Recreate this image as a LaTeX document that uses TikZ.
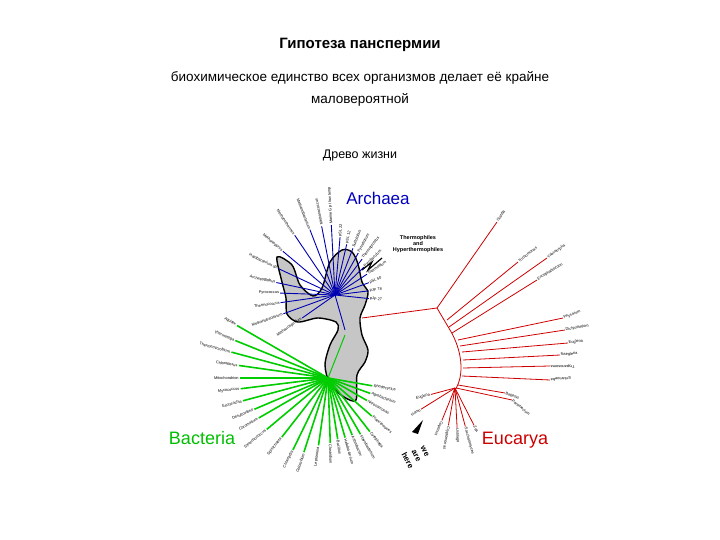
\documentclass[tikz,border=0pt]{standalone}
\usepackage{fontspec}
\setmainfont{Liberation Sans}
\begin{document}
\begin{tikzpicture}[x=1pt,y=-1pt,
  lab/.style={font=\fontsize{3.9}{4.2}\selectfont,inner sep=0.6pt},
  arc/.style={draw=blue!70!black,line width=0.9pt},
  bac/.style={draw=green!80!black,line width=1.6pt},
  euk/.style={draw=red!80!black,line width=0.8pt}]
\useasboundingbox (0,0) rectangle (720,540);
\node (title) at (360,45) {\fontsize{15}{18}\selectfont\bfseries Гипотеза панспермии};
\node[align=center,font=\fontsize{13.5}{22}\selectfont] (sub) at (360,89) {биохимическое единство всех организмов делает её крайне\\ маловероятной};
\node (tree) at (360,155) {\fontsize{12.5}{15}\selectfont Древо жизни};
\node[text=blue!75!black] (arch) at (378,198) {\fontsize{17}{20}\selectfont Archaea};
\node[text=green!75!black] (bact) at (202,438) {\fontsize{18}{20}\selectfont Bacteria};
\node[text=red!80!black] (euc) at (515,440) {\fontsize{18}{20}\selectfont Eucarya};
\node[align=center,font=\fontsize{5.5}{6}\selectfont\bfseries] (thermo) at (418,244) {Thermophiles\\and\\Hyperthermophiles};
% blob
\draw[fill=gray!45,line width=1.4pt] plot[smooth cycle,tension=0.5] coordinates{
 (277,257) (292,265) (300,285) (313,296) (322,288) (330,262) (342,250) (352,252) (358,264)
 (362,282) (368,292) (365,305) (360,318) (362,335) (368,350) (365,362) (357,375) (356,400)
 (344,397) (330,384) (325,365) (330,345) (338,330) (336,322) (318,318) (298,322) (287,314)
 (286,298) (282,282)};
\draw[line width=1.2pt] (362,270) -- (372,262) -- (368,270) -- (382,258);
% archaea
\coordinate (ar) at (335,295);
\foreach \a/\r/\n in {101/70/Methanococcus,93/70/Marine Gp I low temp,85/58/pSL 22,77/52/pSL 12,69/50/Sulfolobus,61/48/Pyrodictium,53/45/Thermoproteus,44/40/Pyrobaculum,33/38/Thermofilum,20/36/pSL 50,7/34/pJP 78,-6/34/pJP 27}
  {\draw[arc] (ar) -- ++(-\a:\r) node[lab,rotate=\a,anchor=west]{\n};}
\foreach \a/\r/\n in {111/70/Methanobacterium,124/72/Methanothermus,140/68/Methanopyrus,155/62/Halobacterium sp.,168/60/Archaeoglobus,178/55/Pyrococcus,188/55/Thermococcus,200/55/Methanobacterium,215/40/Methanospirillum}
  {\draw[arc] (ar) -- ++(-\a:\r) node[lab,rotate=\a-180,anchor=east]{\n};}
\draw[arc] (ar) -- (345,330);
% bacteria
\coordinate (br) at (328,378);
\draw[bac,line width=1pt] (br) -- (345,335);
\foreach \a/\r/\n in {150/105/Aquifex,158/100/Thermotoga,165/100/Thermomicrobium,172/90/Chloroflexus,180/88/Mitochondrion,187/88/Myxococcus,195/88/Escherichia,203/80/Desulfovibrio,210/80/Chromatium,220/80/Synechococcus,232/75/Spirochaeta,244/80/Chlamydia,252/78/Chlorobium,262/68/Leptonema}
  {\draw[bac] (br) -- ++(-\a:\r) node[lab,rotate=\a-180,anchor=east]{\n};}
\foreach \a/\r/\n in {272/65/Clostridium,279/62/Bacillus,286/62/Heliobacterium,293/62/Arthrobacter,300/65/Flavobacterium,308/68/Cytophaga,319/58/Planctomyces,330/45/Nitrosomonas,340/45/Agrobacterium,350/45/Rhodocyclus}
  {\draw[bac] (br) -- ++(-\a:\r) node[lab,rotate=\a,anchor=west]{\n};}
% eucarya
\coordinate (e0) at (362,318);
\coordinate (e1) at (437,308);
\draw[euk] (e0) -- (e1);
\draw[euk] (e1) -- (497,222) node[lab,rotate=58,anchor=west]{Giardia};
\draw[euk] (e1) -- (450,330) .. controls (462,350) and (465,375) .. (455,390);
\draw[euk] (447,320) -- (518,262) node[lab,rotate=38,anchor=west]{Trichomonas};
\draw[euk] (449,327) -- (547,258) node[lab,rotate=35,anchor=west]{Vairimorpha};
\draw[euk] (452,333) -- (537,280) node[lab,rotate=32,anchor=west]{Encephalitozoon};
\foreach \p/\q/\a/\n in {458/340/563/318,460/346/565/330,462/352/568/343,463/360/560/355,463/368/550/366,462/376/550/380,458/385/505/393,456/388/512/400}
  {\draw[euk] (\p,\q) -- (\a,\n);}
\node[lab,rotate=20,anchor=west] (l1) at (563,318){Physarum};
\node[lab,rotate=10,anchor=west] (l2) at (565,330){Dictyostelium};
\node[lab,rotate=8,anchor=west] (l3) at (568,343){Euglena};
\node[lab,rotate=5,anchor=west] (l4) at (560,355){Naegleria};
\node[lab,rotate=-180,anchor=east] (l5) at (550,366){Trypanosoma};
\node[lab,rotate=-175,anchor=east] (l6) at (550,380){Entamoeba};
\node[lab,rotate=-20,anchor=west] (l7) at (505,393){Babesia};
\node[lab,rotate=-40,anchor=west] (l8) at (512,400){Paramecium};
\coordinate (ef) at (455,388);
\foreach \a/\r/\n in {-112/35/Coprinus,-100/38/Cryptomonas,-87/40/Ustilago,-75/40/Saccharomyces,-63/42/Zea}
  {\draw[euk] (ef) -- ++(-\a:\r) node[lab,rotate=\a,anchor=west]{\n};}
\foreach \a/\r/\n in {212/40/Homo,195/25/Euglena}
  {\draw[euk] (ef) -- ++(-\a:\r) node[lab,rotate=\a-180,anchor=east]{\n};}
% we are here
\fill (423,420) -- (412,432) -- (418,434) -- cycle;
\node[align=center,rotate=-62,font=\fontsize{8}{10}\selectfont\bfseries] (we) at (416,456) {we\\are\\here};
\end{tikzpicture}
\end{document}
